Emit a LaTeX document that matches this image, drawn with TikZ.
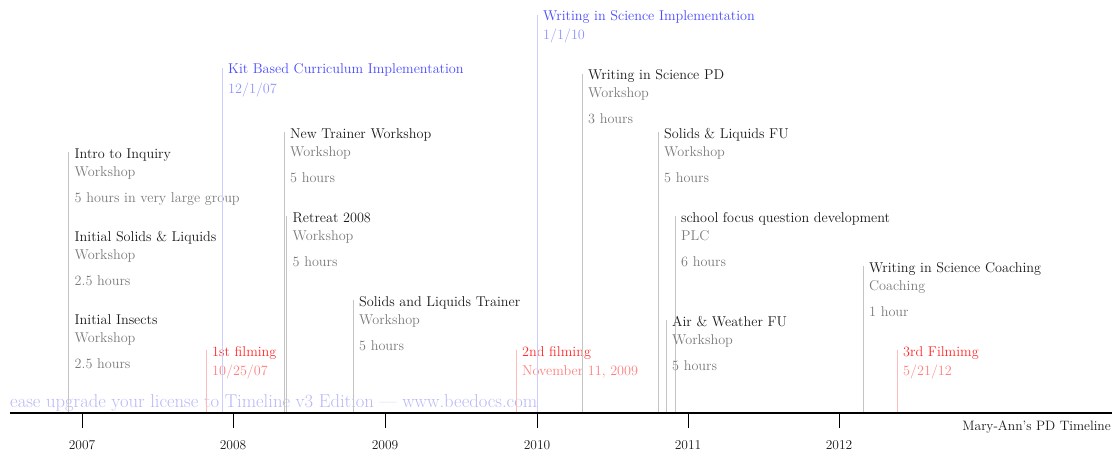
\documentclass[tikz,border=0pt]{standalone}
\definecolor{ttlblack}{HTML}{1A1A1A}
\definecolor{subgray}{HTML}{7A7A7A}
\definecolor{stemgray}{HTML}{C4C4C4}
\definecolor{impblue}{HTML}{4A4AFF}
\definecolor{stemblue}{HTML}{CCCCFF}
\definecolor{filmred}{HTML}{FF2A2A}
\definecolor{stemred}{HTML}{FFBBBB}
\definecolor{wmblue}{HTML}{B8B8F8}
\tikzset{
  evtitle/.style={anchor=base west, inner sep=0pt, font=\fontsize{14.2}{16}\selectfont, text=ttlblack},
  evsub/.style={anchor=base west, inner sep=0pt, font=\fontsize{14.2}{16}\selectfont, text=subgray},
  stemline/.style={line width=1pt},
  yearlbl/.style={anchor=base, inner sep=0pt, font=\fontsize{13.5}{15}\selectfont, text=ttlblack},
}
\newcommand{\tlevent}[6]{%
  \coordinate (#1top) at (#2,-#3);
  \coordinate (#1base) at (#2,-412);
  \draw[stemline, stemgray] (#1base) -- (#1top);
  \node[evtitle] (#1t) at (#2+6,-#3-6) {#4};
  \node[evsub] (#1s) at (#2+6,-#3-24) {#5};
  \node[evsub] (#1h) at (#2+6,-#3-50) {#6};
}
\newcommand{\tlmark}[7]{%
  \coordinate (#1top) at (#2,-#3);
  \coordinate (#1base) at (#2,-412);
  \draw[stemline, #6] (#1base) -- (#1top);
  \node[evtitle, text=#7] (#1t) at (#2+6,-#3-6) {#4};
  \node[evsub, text=#7!60!white] (#1s) at (#2+6,-#3-25) {#5};
}
\begin{document}
\begin{tikzpicture}[x=1pt,y=1pt]
\useasboundingbox (0,0) rectangle (1112,-452);
% watermark
\node[anchor=base west, inner sep=0pt, font=\fontsize{18.6}{20}\selectfont, text=wmblue] (wm) at (10,-407) {ease upgrade your license to Timeline v3 Edition --- www.beedocs.com};
% events
\tlevent{a}{68.5}{152}{Intro to Inquiry}{Workshop}{5 hours in very large group}
\tlevent{b}{68.5}{235}{Initial Solids \& Liquids}{Workshop}{2.5 hours}
\tlevent{c}{68.5}{318}{Initial Insects}{Workshop}{2.5 hours}
\tlmark{d}{206}{350}{1st filming}{10/25/07}{stemred}{filmred}
\tlmark{e}{222}{68}{Kit Based Curriculum Implementation}{12/1/07}{stemblue}{impblue}
\tlevent{f}{284}{132}{New Trainer Workshop}{Workshop}{5 hours}
\tlevent{g}{286.5}{216}{Retreat 2008}{Workshop}{5 hours}
\tlevent{h}{353}{300}{Solids and Liquids Trainer}{Workshop}{5 hours}
\tlmark{i}{516}{350}{2nd filming}{November 11, 2009}{stemred}{filmred}
\tlmark{j}{537}{15}{Writing in Science Implementation}{1/1/10}{stemblue}{impblue}
\tlevent{k}{582}{74}{Writing in Science PD}{Workshop}{3 hours}
\tlevent{l}{658}{132}{Solids \& Liquids FU}{Workshop}{5 hours}
\tlevent{m}{675}{216}{school focus question development}{PLC}{6 hours}
\tlevent{n}{666}{320}{Air \& Weather FU}{Workshop}{5 hours}
\tlevent{o}{863}{266}{Writing in Science Coaching}{Coaching}{1 hour}
\tlmark{p}{897}{350}{3rd Filmimg}{5/21/12}{stemred}{filmred}
% axis
\coordinate (axL) at (10,-412.7);
\coordinate (axR) at (1112,-412.7);
\draw[line width=2.2pt, black] (axL) -- (axR);
\foreach \yr/\xx in {2007/82,2008/233,2009/385,2010/537,2011/688,2012/839}{
  \coordinate (tk\yr) at (\xx,-412.7);
  \coordinate (tb\yr) at (\xx,-428);
  \draw[line width=0.8pt] (tk\yr) -- (tb\yr);
  \node[yearlbl] (y\yr) at (\xx,-449) {\yr};
}
\node[anchor=base east, inner sep=0pt, font=\fontsize{13.6}{16}\selectfont, text=ttlblack] (ttlx) at (1111,-430) {Mary-Ann's PD Timeline};
\end{tikzpicture}
\end{document}
